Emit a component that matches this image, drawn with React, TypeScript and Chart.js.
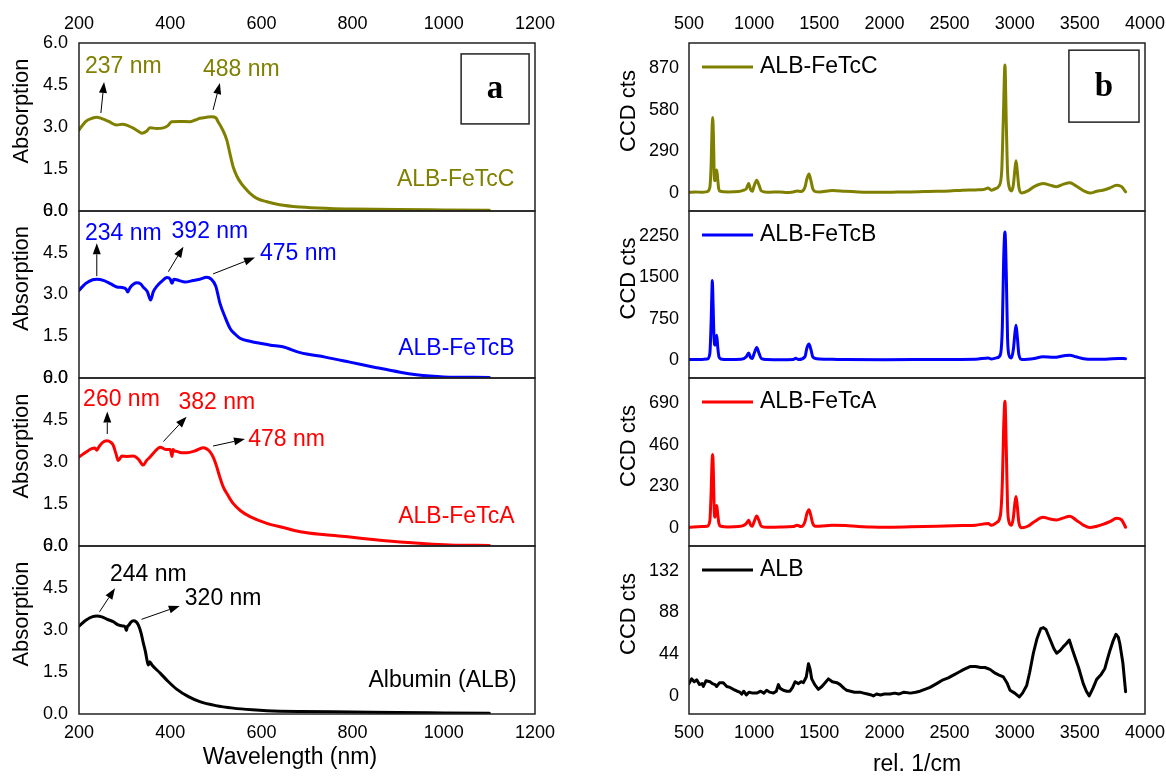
import React, { useEffect, useRef } from "react";
import { Chart, registerables } from "chart.js";

Chart.register(...registerables);

const FONT = "'Liberation Sans', Arial, Helvetica, sans-serif";
const SERIF = "'Liberation Serif', 'Times New Roman', serif";

// ---------- axes ----------
const UV_X_TICKS = [200, 400, 600, 800, 1000, 1200];
const UV_Y_TICKS = [0, 1.5, 3, 4.5, 6];
const RAMAN_X_TICKS = [500, 1000, 1500, 2000, 2500, 3000, 3500, 4000];
const RAMAN_C_TICKS = [0, 290, 580, 870];
const RAMAN_B_TICKS = [0, 750, 1500, 2250];
const RAMAN_A_TICKS = [0, 230, 460, 690];
const RAMAN_ALB_TICKS = [0, 44, 88, 132];

const UV_X_RANGE = [200, 1200];
const UV_Y_RANGE = [0, 6];
const RAMAN_X_RANGE = [500, 4000];
const RAMAN_C_RANGE = [-125, 1045];
const RAMAN_B_RANGE = [-324, 2700];
const RAMAN_A_RANGE = [-99, 828];
const RAMAN_ALB_RANGE = [-19, 158];

const SERIES_NAMES = ["ALB-FeTcC", "ALB-FeTcB", "ALB-FeTcA", "ALB"];
const UV_NAMES = ["ALB-FeTcC", "ALB-FeTcB", "ALB-FeTcA", "Albumin (ALB)"];
const COLORS = ["#808000", "#0000ff", "#ff0000", "#000000"];

// ---------- UV-vis absorption (panel a) ----------
const UV_C_NM = [200,215,230,239,250,265,283,295,307,320,330,338,348,356,370,385,395,403,420,443,455,465,480,491,500,505,515,524,531,538,546,553,565,575,590,612,640,685,750,800,900,1000,1100];
const UV_C_ABS = [2.89,3.2,3.32,3.35,3.3,3.2,3.07,3.1,3.05,2.95,2.85,2.78,2.85,2.97,2.95,2.97,3.05,3.19,3.2,3.19,3.25,3.31,3.35,3.37,3.33,3.19,2.9,2.54,2.05,1.58,1.25,1.05,0.8,0.63,0.45,0.33,0.22,0.14,0.09,0.07,0.05,0.04,0.03];

const UV_B_NM = [200,215,230,239,255,270,283,295,303,307,312,320,327,335,341,350,357,363,371,380,393,400,404,408,420,432,450,465,480,490,500,509,520,531,542,553,575,597,620,647,685,740,794,850,904,940,970,1000,1100];
const UV_B_ABS = [3.15,3.4,3.53,3.55,3.5,3.38,3.27,3.25,3.2,3.09,3.25,3.38,3.42,3.38,3.26,3.1,2.8,3.1,3.3,3.45,3.61,3.55,3.4,3.55,3.5,3.45,3.5,3.55,3.62,3.55,3.3,2.69,2.2,1.79,1.58,1.43,1.32,1.25,1.18,1.12,0.91,0.75,0.57,0.38,0.21,0.12,0.07,0.04,0.02];

const UV_A_NM = [200,215,228,235,239,244,252,261,270,275,281,286,294,305,319,330,341,348,356,365,378,390,400,404,406,409,414,425,436,455,472,480,487,495,502,509,516,527,538,555,575,612,650,685,740,794,850,904,960,1013,1100];
const UV_A_ABS = [3.18,3.35,3.48,3.5,3.42,3.55,3.7,3.76,3.7,3.6,3.3,3.05,3.21,3.2,3.21,3.1,2.89,3.05,3.18,3.35,3.53,3.45,3.45,3.2,3.45,3.4,3.38,3.33,3.33,3.4,3.51,3.47,3.37,3.15,2.83,2.45,2.12,1.8,1.52,1.25,1.05,0.81,0.65,0.51,0.4,0.32,0.22,0.14,0.08,0.04,0.02];

const UV_ALB_NM = [200,215,230,239,250,262,275,286,296,301,304,306,309,314,319,325,330,336,341,346,349,352,355,360,378,395,414,440,465,500,538,580,612,685,800,900,1000,1100];
const UV_ALB_ABS = [3.14,3.35,3.48,3.5,3.47,3.38,3.3,3.18,3.14,3.12,2.98,3.12,3.17,3.28,3.33,3.3,3.18,2.9,2.54,2.2,1.93,1.75,1.87,1.75,1.46,1.17,0.89,0.62,0.44,0.3,0.21,0.15,0.12,0.09,0.07,0.05,0.04,0.03];

// ---------- Raman (panel b) ----------
const RAMAN_C_X = [500,550,600,640,660,670,676,682,688,694,700,706,713,720,728,740,800,880,920,940,958,972,985,1000,1020,1035,1055,1100,1200,1250,1300,1330,1360,1390,1405,1421,1435,1450,1470,1500,1600,1700,1800,1900,2000,2100,2200,2300,2400,2500,2600,2700,2760,2797,2820,2850,2880,2900,2912,2925,2935,2945,2958,2975,2990,3000,3010,3020,3032,3054,3100,3150,3217,3270,3322,3370,3424,3470,3530,3577,3630,3677,3730,3782,3820,3851];
const RAMAN_C_Y = [5,8,5,10,40,200,420,527,380,120,85,140,160,100,30,12,8,10,20,30,67,25,12,50,90,60,15,5,8,3,8,14,10,40,100,132,90,30,10,8,18,12,8,6,5,7,8,10,12,15,20,22,25,35,20,30,50,150,500,891,500,150,40,15,60,150,225,150,40,0,15,45,67,55,44,60,72,50,15,0,12,20,35,55,45,8];

const RAMAN_B_X = [500,600,640,660,670,676,679,685,692,700,706,713,720,730,745,800,900,940,958,972,985,1000,1020,1035,1055,1100,1200,1300,1319,1340,1390,1405,1421,1435,1450,1470,1500,1600,1700,2000,2400,2700,2797,2820,2860,2890,2905,2915,2925,2935,2945,2958,2975,2990,3000,3010,3020,3032,3054,3100,3150,3217,3300,3380,3424,3470,3530,3600,3700,3800,3851];
const RAMAN_B_Y = [10,12,20,120,700,1250,1440,1000,400,270,380,450,250,60,20,10,15,60,130,50,30,120,230,140,30,10,5,10,35,10,60,220,290,200,60,30,20,15,10,8,10,15,40,20,40,100,600,1800,2320,1600,400,80,40,200,450,630,420,100,10,15,30,60,50,80,90,60,25,15,15,30,25];

const RAMAN_A_X = [500,600,640,660,670,676,682,688,694,700,706,713,720,730,745,800,880,920,940,958,972,985,1000,1020,1035,1055,1100,1200,1300,1330,1360,1390,1405,1421,1435,1450,1470,1500,1600,1700,1800,1900,2000,2200,2400,2600,2700,2797,2820,2860,2890,2905,2915,2925,2935,2945,2958,2975,2990,3000,3010,3020,3032,3054,3100,3150,3217,3270,3322,3370,3424,3470,3530,3577,3630,3677,3730,3782,3820,3851];
const RAMAN_A_Y = [5,8,10,40,200,350,406,280,90,60,100,125,80,25,10,6,8,15,25,43,18,10,35,67,45,10,4,6,8,16,8,35,80,101,70,25,10,10,15,14,8,6,5,7,10,14,16,25,15,30,70,250,550,700,450,120,30,15,60,130,174,120,30,2,10,35,60,50,45,55,65,45,15,3,10,20,35,54,45,5];

const RAMAN_ALB_X = [500,520,540,559,580,600,610,630,661,680,700,712,735,763,790,815,840,870,890,904,920,940,960,990,1020,1050,1075,1096,1120,1148,1170,1186,1200,1224,1250,1275,1295,1314,1340,1360,1378,1400,1417,1430,1442,1465,1493,1520,1545,1570,1600,1634,1660,1690,1710,1740,1770,1812,1840,1870,1900,1915,1940,1970,2000,2043,2080,2110,2150,2200,2240,2273,2310,2350,2401,2450,2490,2529,2570,2610,2657,2700,2740,2772,2810,2850,2880,2913,2940,2964,3000,3035,3060,3092,3115,3143,3170,3200,3220,3240,3270,3300,3322,3350,3373,3395,3419,3440,3462,3490,3526,3550,3572,3600,3629,3660,3692,3710,3731,3755,3777,3795,3807,3830,3851];
const RAMAN_ALB_Y = [13,18,15,17,12,13,10,16,15,13,12,10,14,14,10,9,7,5,4,2,5,1,4,3,3,5,3,6,4,3,5,12,8,6,5,5,9,15,13,15,14,20,34,28,18,12,7,10,14,18,15,14,12,8,6,5,4,4,3,2,1,0,2,1,2,2,3,2,4,3,4,5,7,9,13,17,19,22,25,28,31,31,30,30,28,24,22,20,14,6,3,-1,3,11,25,45,60,71,72,70,60,50,45,48,52,55,59,50,41,30,13,5,0,8,17.5,22,29,38,48,58,65,62,55,35,4.5];

// ---------- annotations (data coordinates) ----------
type Note = { text: string; x: number; y: number; align?: "left" | "right" };
type Arrow = { x1: number; y1: number; x2: number; y2: number };
type Tag = { text: string; x1: number; x2: number; y1: number; y2: number };

const UV_C_NOTES: Note[] = [
  { text: "237 nm", x: 213, y: 5.14 },
  { text: "488 nm", x: 472, y: 5.04 },
  { text: "ALB-FeTcC", x: 1155, y: 1.11, align: "right" },
];
const UV_C_ARROWS: Arrow[] = [
  { x1: 248, y1: 3.5, x2: 255, y2: 4.61 },
  { x1: 494, y1: 3.61, x2: 509, y2: 4.57 },
];
const UV_B_NOTES: Note[] = [
  { text: "234 nm", x: 213, y: 5.2 },
  { text: "392 nm", x: 403, y: 5.26 },
  { text: "475 nm", x: 597, y: 4.48 },
  { text: "ALB-FeTcB", x: 1155, y: 1.04, align: "right" },
];
const UV_B_ARROWS: Arrow[] = [
  { x1: 239, y1: 3.66, x2: 239, y2: 4.84 },
  { x1: 396, y1: 3.82, x2: 429, y2: 4.72 },
  { x1: 494, y1: 3.74, x2: 586, y2: 4.33 },
];
const UV_A_NOTES: Note[] = [
  { text: "260 nm", x: 209, y: 5.24 },
  { text: "382 nm", x: 418, y: 5.12 },
  { text: "478 nm", x: 571, y: 3.79 },
  { text: "ALB-FeTcA", x: 1155, y: 1.04, align: "right" },
];
const UV_A_ARROWS: Arrow[] = [
  { x1: 262, y1: 4.0, x2: 262, y2: 4.8 },
  { x1: 385, y1: 3.73, x2: 436, y2: 4.62 },
  { x1: 494, y1: 3.57, x2: 564, y2: 3.82 },
];
const UV_ALB_NOTES: Note[] = [
  { text: "244 nm", x: 268, y: 4.96 },
  { text: "320 nm", x: 432, y: 4.13 },
  { text: "Albumin (ALB)", x: 1160, y: 1.19, align: "right" },
];
const UV_ALB_ARROWS: Arrow[] = [
  { x1: 245, y1: 3.65, x2: 279, y2: 4.49 },
  { x1: 337, y1: 3.38, x2: 421, y2: 3.86 },
];
const TAG_A: Tag = { text: "a", x1: 1038, x2: 1187, y1: 5.61, y2: 3.11 };
const TAG_B: Tag = { text: "b", x1: 3416, x2: 3954, y1: 995, y2: 494 };

const AXIS_TITLES = { uvY: "Absorption", uvX: "Wavelength (nm)", ramanY: "CCD cts", ramanX: "rel. 1/cm" };

// ---------- layout (pixels) ----------
const COL_LEFT = [79, 689];
const COL_RIGHT = [535, 1145];
const ROW_TOP = [43, 211, 378, 546];
const ROW_BOTTOM = [211, 378, 546, 714];
const W = 1166;
const H = 776;
const Y_AXIS_W = 60;
const X_TOP_H = 43;
const X_BOT_H = 62;
const Y_TITLE_DX = [-57, -60.5];
const X_TITLE_DX = [-17, 0];
const X_TITLE_Y = [758, 765];

interface PanelSpec {
  col: number;
  row: number;
  xs: number[];
  ys: number[];
  color: string;
  label: string;
  xRange: number[];
  yRange: number[];
  xTicks: number[];
  yTicks: number[];
  decimals: number;
  smooth: boolean;
  notes: Note[];
  arrows: Arrow[];
  tag?: Tag;
  legend: boolean;
  yTitle: string;
  xTitle: string;
}

const PANELS: PanelSpec[] = [
  { col: 0, row: 0, xs: UV_C_NM, ys: UV_C_ABS, color: COLORS[0], label: UV_NAMES[0], xRange: UV_X_RANGE, yRange: UV_Y_RANGE, xTicks: UV_X_TICKS, yTicks: UV_Y_TICKS, decimals: 1, smooth: true, notes: UV_C_NOTES, arrows: UV_C_ARROWS, tag: TAG_A, legend: false, yTitle: AXIS_TITLES.uvY, xTitle: AXIS_TITLES.uvX },
  { col: 0, row: 1, xs: UV_B_NM, ys: UV_B_ABS, color: COLORS[1], label: UV_NAMES[1], xRange: UV_X_RANGE, yRange: UV_Y_RANGE, xTicks: UV_X_TICKS, yTicks: UV_Y_TICKS, decimals: 1, smooth: true, notes: UV_B_NOTES, arrows: UV_B_ARROWS, legend: false, yTitle: AXIS_TITLES.uvY, xTitle: AXIS_TITLES.uvX },
  { col: 0, row: 2, xs: UV_A_NM, ys: UV_A_ABS, color: COLORS[2], label: UV_NAMES[2], xRange: UV_X_RANGE, yRange: UV_Y_RANGE, xTicks: UV_X_TICKS, yTicks: UV_Y_TICKS, decimals: 1, smooth: true, notes: UV_A_NOTES, arrows: UV_A_ARROWS, legend: false, yTitle: AXIS_TITLES.uvY, xTitle: AXIS_TITLES.uvX },
  { col: 0, row: 3, xs: UV_ALB_NM, ys: UV_ALB_ABS, color: COLORS[3], label: UV_NAMES[3], xRange: UV_X_RANGE, yRange: UV_Y_RANGE, xTicks: UV_X_TICKS, yTicks: UV_Y_TICKS, decimals: 1, smooth: true, notes: UV_ALB_NOTES, arrows: UV_ALB_ARROWS, legend: false, yTitle: AXIS_TITLES.uvY, xTitle: AXIS_TITLES.uvX },
  { col: 1, row: 0, xs: RAMAN_C_X, ys: RAMAN_C_Y, color: COLORS[0], label: SERIES_NAMES[0], xRange: RAMAN_X_RANGE, yRange: RAMAN_C_RANGE, xTicks: RAMAN_X_TICKS, yTicks: RAMAN_C_TICKS, decimals: 0, smooth: true, notes: [], arrows: [], tag: TAG_B, legend: true, yTitle: AXIS_TITLES.ramanY, xTitle: AXIS_TITLES.ramanX },
  { col: 1, row: 1, xs: RAMAN_B_X, ys: RAMAN_B_Y, color: COLORS[1], label: SERIES_NAMES[1], xRange: RAMAN_X_RANGE, yRange: RAMAN_B_RANGE, xTicks: RAMAN_X_TICKS, yTicks: RAMAN_B_TICKS, decimals: 0, smooth: true, notes: [], arrows: [], legend: true, yTitle: AXIS_TITLES.ramanY, xTitle: AXIS_TITLES.ramanX },
  { col: 1, row: 2, xs: RAMAN_A_X, ys: RAMAN_A_Y, color: COLORS[2], label: SERIES_NAMES[2], xRange: RAMAN_X_RANGE, yRange: RAMAN_A_RANGE, xTicks: RAMAN_X_TICKS, yTicks: RAMAN_A_TICKS, decimals: 0, smooth: true, notes: [], arrows: [], legend: true, yTitle: AXIS_TITLES.ramanY, xTitle: AXIS_TITLES.ramanX },
  { col: 1, row: 3, xs: RAMAN_ALB_X, ys: RAMAN_ALB_Y, color: COLORS[3], label: SERIES_NAMES[3], xRange: RAMAN_X_RANGE, yRange: RAMAN_ALB_RANGE, xTicks: RAMAN_X_TICKS, yTicks: RAMAN_ALB_TICKS, decimals: 0, smooth: false, notes: [], arrows: [], legend: true, yTitle: AXIS_TITLES.ramanY, xTitle: AXIS_TITLES.ramanX },
];

function drawArrow(ctx: CanvasRenderingContext2D, x1: number, y1: number, x2: number, y2: number) {
  const ang = Math.atan2(y2 - y1, x2 - x1);
  const len = 11;
  const hw = 4;
  const bx = x2 - len * Math.cos(ang);
  const by = y2 - len * Math.sin(ang);
  ctx.strokeStyle = "#000";
  ctx.fillStyle = "#000";
  ctx.lineWidth = 1;
  ctx.beginPath();
  ctx.moveTo(x1, y1);
  ctx.lineTo(bx, by);
  ctx.stroke();
  ctx.beginPath();
  ctx.moveTo(x2, y2);
  ctx.lineTo(bx + hw * Math.sin(ang), by - hw * Math.cos(ang));
  ctx.lineTo(bx - hw * Math.sin(ang), by + hw * Math.cos(ang));
  ctx.closePath();
  ctx.fill();
}

function buildChart(canvas: HTMLCanvasElement, p: PanelSpec) {
  const left = COL_LEFT[p.col];
  const right = COL_RIGHT[p.col];
  const top = ROW_TOP[p.row];
  const bottom = ROW_BOTTOM[p.row];
  const isTop = p.row === 0;
  const isBottom = p.row === ROW_TOP.length - 1;

  const decor = {
    id: "decor" + p.col + p.row,
    afterDraw(chart: any) {
      const { ctx, chartArea: a } = chart;
      const xs = chart.scales.x;
      const ys = chart.scales.y;
      ctx.save();
      // frame
      ctx.strokeStyle = "#222";
      ctx.lineWidth = 1.5;
      ctx.strokeRect(a.left, a.top, a.right - a.left, a.bottom - a.top);
      // arrows
      for (const ar of p.arrows) {
        drawArrow(ctx, xs.getPixelForValue(ar.x1), ys.getPixelForValue(ar.y1), xs.getPixelForValue(ar.x2), ys.getPixelForValue(ar.y2));
      }
      // notes
      ctx.font = `23px ${FONT}`;
      ctx.textBaseline = "middle";
      ctx.fillStyle = p.color;
      for (const n of p.notes) {
        ctx.textAlign = n.align || "left";
        ctx.fillText(n.text, xs.getPixelForValue(n.x), ys.getPixelForValue(n.y));
      }
      // legend
      if (p.legend) {
        const ly = a.top + 24;
        ctx.strokeStyle = p.color;
        ctx.lineWidth = 3;
        ctx.beginPath();
        ctx.moveTo(a.left + 13, ly);
        ctx.lineTo(a.left + 64, ly);
        ctx.stroke();
        ctx.fillStyle = "#000";
        ctx.textAlign = "left";
        ctx.fillText(p.label, a.left + 71, ly);
      }
      // panel tag
      if (p.tag) {
        const t = p.tag;
        const x1 = xs.getPixelForValue(t.x1);
        const x2 = xs.getPixelForValue(t.x2);
        const y1 = ys.getPixelForValue(t.y1);
        const y2 = ys.getPixelForValue(t.y2);
        ctx.strokeStyle = "#222";
        ctx.lineWidth = 1.5;
        ctx.strokeRect(x1, y1, x2 - x1, y2 - y1);
        ctx.fillStyle = "#000";
        ctx.font = `bold 33px ${SERIF}`;
        ctx.textAlign = "center";
        ctx.textBaseline = "middle";
        ctx.fillText(t.text, (x1 + x2) / 2, (y1 + y2) / 2 + 1);
      }
      // y title
      ctx.fillStyle = "#000";
      ctx.font = `22px ${FONT}`;
      ctx.textAlign = "center";
      ctx.textBaseline = "middle";
      ctx.save();
      ctx.translate(a.left + Y_TITLE_DX[p.col], (a.top + a.bottom) / 2 - 16);
      ctx.rotate(-Math.PI / 2);
      ctx.fillText(p.yTitle, 0, 0);
      ctx.restore();
      // x title
      if (isBottom) {
        ctx.font = `23px ${FONT}`;
        ctx.fillText(p.xTitle, (a.left + a.right) / 2 + X_TITLE_DX[p.col], X_TITLE_Y[p.col]);
      }
      ctx.restore();
    },
  };

  const tickFont = { family: FONT, size: 18 };

  return new Chart(canvas, {
    type: "line",
    data: {
      datasets: [
        {
          label: p.label,
          data: p.xs.map((x, i) => ({ x, y: p.ys[i] })),
          borderColor: p.color,
          backgroundColor: p.color,
          borderWidth: 3,
          pointRadius: 0,
          fill: false,
          tension: p.smooth ? 0.4 : 0,
          cubicInterpolationMode: p.smooth ? "monotone" : "default",
          borderJoinStyle: "round",
          borderCapStyle: "round",
        },
      ],
    },
    options: {
      responsive: false,
      maintainAspectRatio: false,
      animation: false,
      events: [],
      layout: {
        padding: {
          left: left - Y_AXIS_W,
          right: W - right,
          top: isTop ? top - X_TOP_H : top,
          bottom: isBottom ? H - bottom - X_BOT_H : H - bottom,
        },
      },
      plugins: { legend: { display: false }, tooltip: { enabled: false } },
      scales: {
        x: {
          type: "linear",
          min: p.xRange[0],
          max: p.xRange[1],
          position: isTop ? "top" : "bottom",
          display: isTop || isBottom,
          grid: { display: false, drawTicks: false },
          border: { display: false },
          ticks: {
            padding: 8,
            font: tickFont,
            color: "#000",
            autoSkip: false,
            maxRotation: 0,
            callback: (v: any) => String(v),
          },
          afterBuildTicks: (s: any) => {
            s.ticks = p.xTicks.map((v) => ({ value: v }));
          },
          afterFit: (s: any) => {
            s.height = isTop ? X_TOP_H : isBottom ? X_BOT_H : 0;
            s.paddingLeft = 0;
            s.paddingRight = 0;
          },
        },
        y: {
          type: "linear",
          min: p.yRange[0],
          max: p.yRange[1],
          position: "left",
          grid: { display: false, drawTicks: false },
          border: { display: false },
          ticks: {
            padding: p.col === 0 ? 11 : 10,
            font: tickFont,
            color: "#000",
            autoSkip: false,
            callback: (v: any) => Number(v).toFixed(p.decimals),
          },
          afterBuildTicks: (s: any) => {
            s.ticks = p.yTicks.map((v) => ({ value: v }));
          },
          afterFit: (s: any) => {
            s.width = Y_AXIS_W;
            s.paddingTop = 0;
            s.paddingBottom = 0;
          },
        },
      },
    },
    plugins: [decor],
  } as any);
}

function Panel({ spec }: { spec: PanelSpec }) {
  const ref = useRef<HTMLCanvasElement>(null);
  useEffect(() => {
    const chart = buildChart(ref.current as HTMLCanvasElement, spec);
    return () => chart.destroy();
  }, [spec]);
  return (
    <canvas
      ref={ref}
      width={W}
      height={H}
      style={{ position: "absolute", left: 0, top: 0, width: W, height: H }}
    />
  );
}

export default function App() {
  return (
    <div style={{ position: "absolute", left: 0, top: 0, width: W, height: H, background: "#fff", overflow: "hidden" }}>
      {PANELS.map((p, i) => (
        <Panel key={i} spec={p} />
      ))}
    </div>
  );
}
